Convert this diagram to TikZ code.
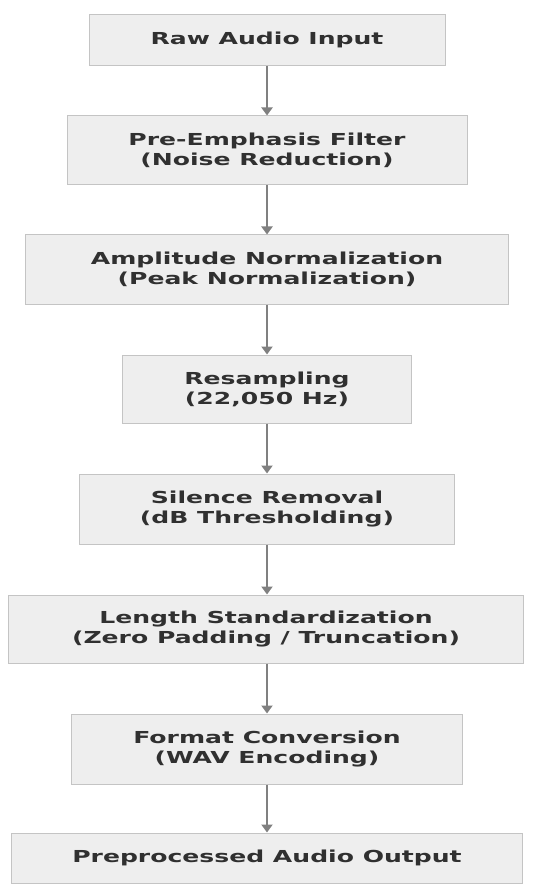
\documentclass[tikz,border=0pt]{standalone}
\usepackage{fontspec}
\usepackage{tikz}
\usetikzlibrary{arrows.meta}
\newfontfamily\stagefont[FakeStretch=1.52]{DejaVu Sans}
\definecolor{stagefill}{HTML}{EEEEEE}
\definecolor{stageline}{HTML}{C4C4C4}
\definecolor{stagetext}{HTML}{303030}
\definecolor{flowline}{HTML}{808080}

\begin{document}
\begin{tikzpicture}[x=1pt,y=-1pt,>/.tip={Triangle[width=11pt,length=8pt]},
	stage/.style={draw=stageline,fill=stagefill,line width=1pt,align=center,inner sep=0pt,
		text=stagetext,font=\stagefont\bfseries\fontsize{16.5}{20}\selectfont},
	flow/.style={->,draw=flowline,line width=2pt}]
	\useasboundingbox (0,0) rectangle (535,885);
	\draw (267,40) node (raw) [stage,minimum width=356pt,minimum height=51pt] {Raw Audio Input};
	\draw (267,150.5) node (preemph) [stage,minimum width=400pt,minimum height=69pt] {Pre-Emphasis Filter\\(Noise Reduction)};
	\draw (267,269.5) node (ampnorm) [stage,minimum width=483pt,minimum height=69pt] {Amplitude Normalization\\(Peak Normalization)};
	\draw (267,389) node (resamp) [stage,minimum width=289pt,minimum height=68pt] {Resampling\\(22,050 Hz)};
	\draw (267,509) node (silence) [stage,minimum width=375pt,minimum height=70pt] {Silence Removal\\(dB Thresholding)};
	\draw (266,629) node (lenstd) [stage,minimum width=515pt,minimum height=68pt] {Length Standardization\\(Zero Padding / Truncation)};
	\draw (267,749) node (format) [stage,minimum width=391pt,minimum height=70pt] {Format Conversion\\(WAV Encoding)};
	\draw (267,858) node (output) [stage,minimum width=511pt,minimum height=50pt] {Preprocessed Audio Output};
	
	\draw[flow] (raw) -- (preemph);
	\draw[flow] (preemph) -- (ampnorm);
	\draw[flow] (ampnorm) -- (resamp);
	\draw[flow] (resamp) -- (silence);
	\draw[flow] (silence.south) -- (silence.south |- lenstd.north);
	\draw[flow] (lenstd.south -| format.north) -- (format);
	\draw[flow] (format) -- (output);
\end{tikzpicture}
\end{document}
